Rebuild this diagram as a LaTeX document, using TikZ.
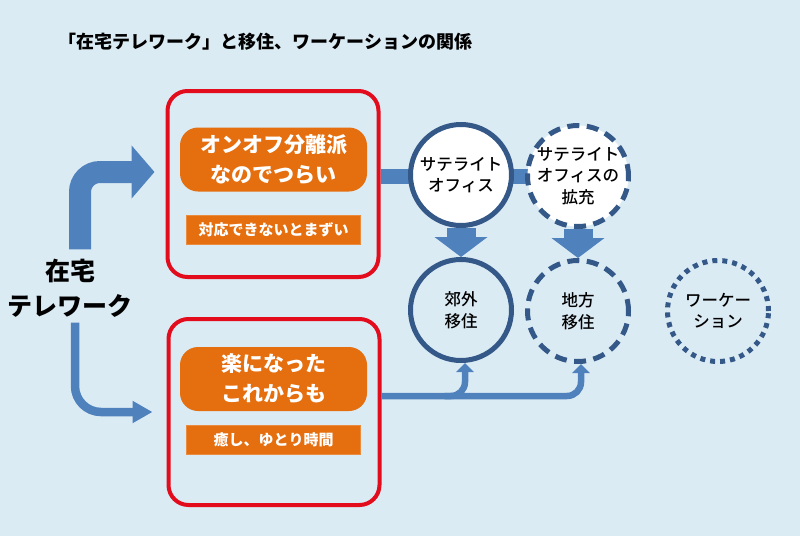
\documentclass[tikz,border=0pt]{standalone}
\usepackage{fontspec}
\setmainfont{Noto Sans CJK JP}
\newfontfamily\ringfont{Noto Sans CJK JP Medium}
\usepackage{tikz}
\usetikzlibrary{arrows.meta, positioning, calc}
\definecolor{bgblue}{RGB}{219,235,244}
\definecolor{myred}{RGB}{226,12,28}
\definecolor{myorange}{RGB}{229,110,14}
\definecolor{arrowblue}{RGB}{79,129,189}
\definecolor{edgeblue}{RGB}{56,93,138}
\definecolor{ringblue}{RGB}{52,88,136}
\pgfdeclarelayer{background}
\pgfsetlayers{background,main}
\tikzset{
  redframe/.style={rectangle, draw=myred, line width=4pt, rounded corners=20pt,
    minimum width=211pt, minimum height=186pt},
  pill/.style={rectangle, fill=myorange, rounded corners=18pt, text=white,
    align=center, minimum width=187pt, minimum height=64pt, inner sep=0pt,
    font=\fontsize{21}{30}\selectfont\bfseries},
  subbar/.style={rectangle, fill=myorange, draw=myorange!80!white, line width=0.6pt,
    text=white, minimum width=174pt, minimum height=29pt, inner sep=0pt,
    font=\fontsize{15}{18}\selectfont\bfseries},
  ring/.style={circle, draw=ringblue, line width=5pt, minimum size=101pt, inner sep=0pt,
    align=center, font=\fontsize{16.5}{21.5}\selectfont\ringfont},
  dashring/.style={ring, dash pattern=on 12pt off 7.5pt},
  dotring/.style={ring, dash pattern=on 5pt off 5pt},
  bigarrow/.style={-{Triangle[length=23pt, width=52pt]}, line width=22pt,
    color=arrowblue, rounded corners=20pt},
  smallarrow/.style={-{Triangle[length=20pt, width=21pt]}, line width=8.5pt,
    color=arrowblue, rounded corners=26pt},
  downarrow/.style={-{Triangle[length=20pt, width=52pt]}, line width=29pt, color=arrowblue},
  feedbar/.style={line width=15pt, color=arrowblue},
  thinarrow/.style={-{Triangle[length=9pt, width=17pt]}, line width=6.5pt,
    color=arrowblue, rounded corners=14pt}
}

\begin{document}
\begin{tikzpicture}[x=1pt, y=1pt]
  \begin{pgfonlayer}{background}
    \fill[bgblue] (0,0) rectangle (800,-536);
  \end{pgfonlayer}
  \useasboundingbox (0,0) rectangle (800,-536);

  \node[anchor=west, font=\fontsize{18}{22}\selectfont\bfseries] (title) at (55,-42)
    {「在宅テレワーク」と移住、ワーケーションの関係};

  \node[align=center, font=\fontsize{25}{35}\selectfont\bfseries] (tw) at (70,-288) {在宅\\テレワーク};

  \node[redframe] (box1) at (273,-184) {};
  \node[pill] (pill1) at (273.5,-159.5) {オンオフ分離派\\なのでつらい};
  \node[subbar, below=23pt of pill1] (sub1) {対応できないとまずい};

  \node[redframe] (box2) at (274,-412) {};
  \node[pill] (pill2) at (273.5,-379) {楽になった\\これからも};
  \node[subbar, below=14pt of pill2] (sub2) {癒し、ゆとり時間};

  \node[ring, fill=white] (c1) at (461,-175) {サテライト\\オフィス};
  \node[dashring, fill=white] (c2) at (578,-176) {サテライト\\オフィスの\\拡充};
  \node[ring] (c3) at (461,-310) {郊外\\移住};
  \node[dashring] (c4) at (578,-311) {地方\\移住};
  \node[dotring] (c5) at (718,-311) {ワーケー\\ション};

  \begin{pgfonlayer}{background}
    \draw[feedbar] ([yshift=8pt]box1.east) -- (c2.center);
  \end{pgfonlayer}

  \draw[bigarrow] ([xshift=10pt, yshift=6pt]tw.north) |- ([xshift=-11pt, yshift=12pt]box1.west);
  \draw[smallarrow] ([xshift=5pt, yshift=-2pt]tw.south) |- ([xshift=-14pt]box2.west);

  \draw[downarrow] (c1.south) -- (c3.north);
  \draw[downarrow] (c2.south) -- (c4.north);

  \coordinate (split) at ([xshift=63pt, yshift=16pt]box2.east);
  \draw[thinarrow] ([yshift=16pt]box2.east) -| ([xshift=3pt]c4.south);
  \draw[thinarrow] (split) -| ([xshift=4pt]c3.south);
\end{tikzpicture}
\end{document}
